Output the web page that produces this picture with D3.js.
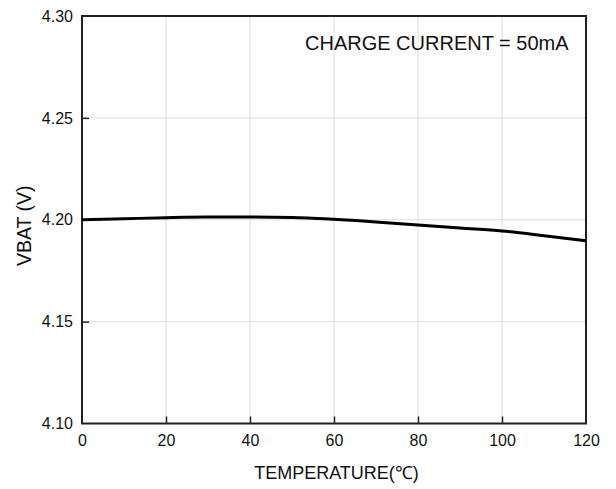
<!DOCTYPE html>
<html><head><meta charset="utf-8">
<script src="https://cdn.jsdelivr.net/npm/d3@7"></script>
<style>body{margin:0;background:#fff}svg{display:block}</style>
</head><body><svg id="c" width="616" height="489"></svg>
<script>
const temps = [0, 10, 20, 30, 40, 50, 60, 70, 80, 90, 100, 110, 120];
const vbat = [4.2000, 4.2005, 4.2010, 4.2013, 4.2013, 4.2011, 4.2002, 4.1989, 4.1974, 4.1959, 4.1945, 4.1922, 4.1897];
const xTicks = [0, 20, 40, 60, 80, 100, 120];
const yTicks = [4.10, 4.15, 4.20, 4.25, 4.30];
const annotation = "CHARGE CURRENT = 50mA";
const xTitle = "TEMPERATURE(℃)";
const yTitle = "VBAT (V)";

const m = {l: 82, r: 30, t: 16, b: 65.5};
const W = 616, H = 489;
const svg = d3.select("#c");
const x = d3.scaleLinear().domain([0, 120]).range([m.l, W - m.r]);
const y = d3.scaleLinear().domain([4.10, 4.30]).range([H - m.b, m.t]);
const font = "'Liberation Sans', Arial, sans-serif";

// gridlines
svg.append("g").selectAll("line").data(xTicks.slice(1, -1)).join("line")
  .attr("x1", d => x(d)).attr("x2", d => x(d)).attr("y1", y(4.30)).attr("y2", y(4.10))
  .attr("stroke", "#dedede").attr("stroke-width", 1);
svg.append("g").selectAll("line").data(yTicks.slice(1, -1)).join("line")
  .attr("x1", x(0)).attr("x2", x(120)).attr("y1", d => y(d)).attr("y2", d => y(d))
  .attr("stroke", "#dedede").attr("stroke-width", 1);

// axes
const xAxis = d3.axisBottom(x).tickValues(xTicks).tickSize(-7).tickPadding(14).tickFormat(d3.format("d"));
const gx = svg.append("g").attr("transform", `translate(0,${y(4.10)})`).call(xAxis);
const yAxis = d3.axisLeft(y).tickValues(yTicks).tickSize(-7).tickPadding(9).tickFormat(d3.format(".2f"));
const gy = svg.append("g").attr("transform", `translate(${x(0)},0)`).call(yAxis);
[gx, gy].forEach(g => {
  g.select(".domain").remove();
  g.selectAll(".tick line").attr("stroke", "#222").attr("stroke-width", 1.5);
  g.selectAll(".tick text").attr("font-family", font).attr("font-size", 16).attr("fill", "#111");
});
gx.selectAll(".tick line").filter(d => d === 0 || d === 120).remove();
gy.selectAll(".tick line").filter(d => d === 4.10 || d === 4.30).remove();
gx.selectAll(".tick text").attr("dy", "0.71em").attr("y", 11);

// frame
svg.append("rect").attr("x", x(0)).attr("y", y(4.30))
  .attr("width", x(120) - x(0)).attr("height", y(4.10) - y(4.30))
  .attr("fill", "none").attr("stroke", "#222").attr("stroke-width", 2);

// curve
const line = d3.line().x((d, i) => x(temps[i])).y(d => y(d)).curve(d3.curveMonotoneX);
svg.append("path").datum(vbat).attr("d", line)
  .attr("fill", "none").attr("stroke", "#000").attr("stroke-width", 3);

// annotation
svg.append("text").attr("x", 305).attr("y", 50).attr("font-family", font).attr("font-size", 20)
  .attr("fill", "#111").text(annotation);

// axis titles
svg.append("text").attr("x", 336.5).attr("y", 479)
  .attr("text-anchor", "middle").attr("font-family", font).attr("font-size", 18).attr("fill", "#111").text(xTitle);
svg.append("text").attr("transform", `translate(31,${(y(4.10) + y(4.30)) / 2 + 6}) rotate(-90)`)
  .attr("text-anchor", "middle").attr("font-family", font).attr("font-size", 19.5).attr("fill", "#111").text(yTitle);
</script></body></html>
